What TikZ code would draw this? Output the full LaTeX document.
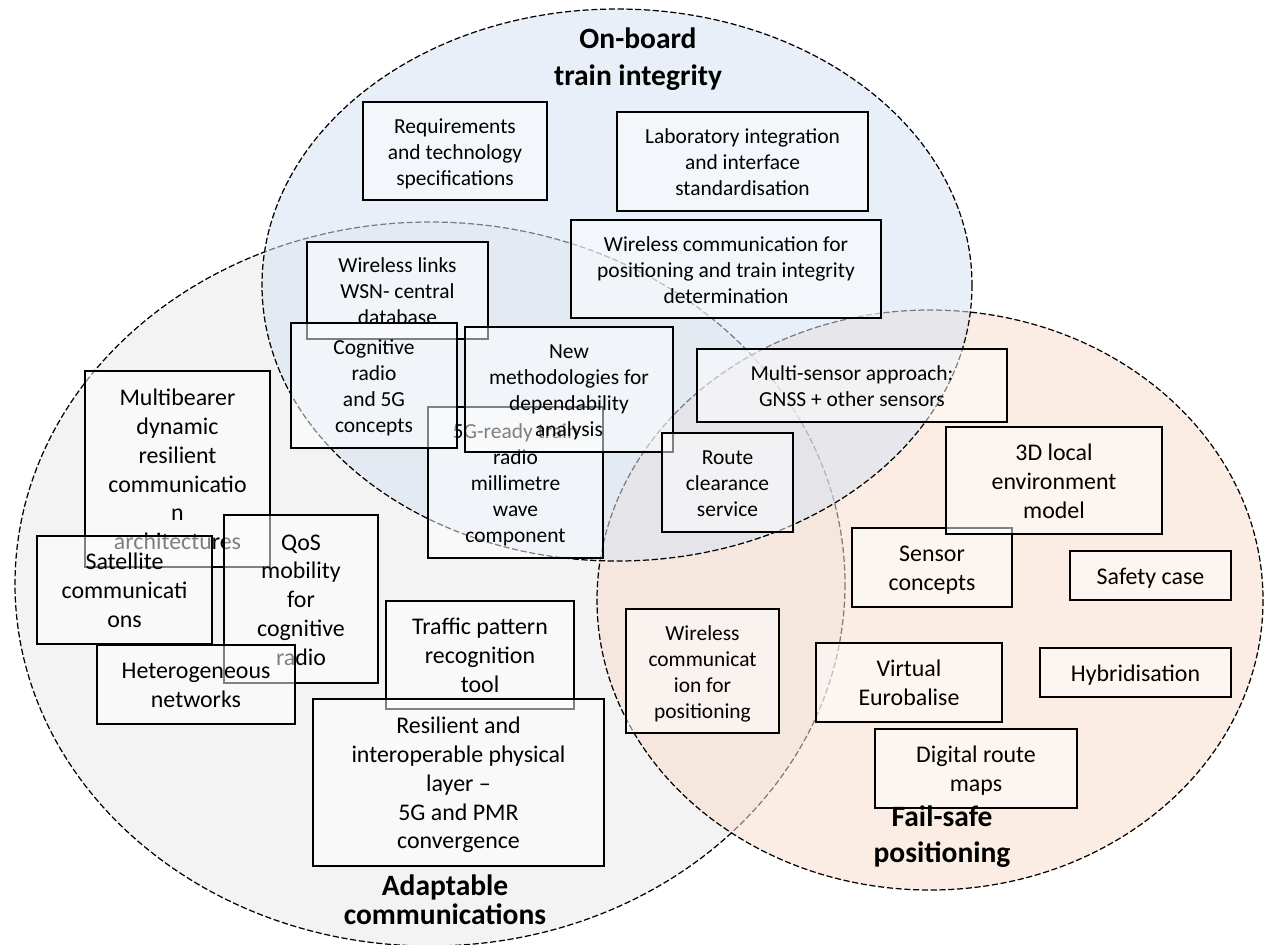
\documentclass[tikz,border=0pt]{standalone}
\usepackage{fontspec}
\setmainfont{Carlito}
\definecolor{boardfill}{RGB}{215,226,242}
\definecolor{commfill}{RGB}{233,233,233}
\definecolor{posfill}{RGB}{248,222,204}
% centred lines, each row one \baselineskip high
\newcommand\lines[1]{\begin{tabular}{@{}c@{}}#1\end{tabular}}
% box from (x1,y1) to (x2,y2) in pixel units, text centred and set a little low
\newcommand\boxat[7]{\node[card,#2,minimum width={(#5-#3)*0.02cm},minimum height={(#6-#4)*0.02cm}] (#1) at ({(#3+#5)/2},{(#4+#6)/2}) {\raisebox{-0.06cm}[\height][\depth]{\lines{#7}}};}
\begin{document}
\begin{tikzpicture}[x=0.02cm,y=-0.02cm,
  region/.style={draw=black, line width=0.7pt, dash pattern=on 3.5pt off 1.5pt, fill opacity=0.55},
  card/.style={draw=black, line width=0.9pt, fill=white, fill opacity=0.5, text opacity=1, inner sep=0pt},
  txtS/.style={font=\fontsize{12.2}{14.75}\selectfont},
  txtL/.style={font=\fontsize{13.6}{16.4}\selectfont},
  heading/.style={inner sep=0pt, text=black}
]
\useasboundingbox (0,0) rectangle (1270,944);

% the three overlapping work areas
\path[region, fill=commfill] (430,584) ellipse [x radius=415, y radius=362];
\path[region, fill=posfill]  (930,600) ellipse [x radius=333, y radius=290];
\path[region, fill=boardfill] (617,285) ellipse [x radius=355, y radius=276];

% on-board train integrity
\boxat{req}{txtS}{363}{102}{547}{200}{Requirements\\and technology\\specifications}
\boxat{lab}{txtS}{617}{112}{868}{211}{Laboratory integration\\and interface\\standardisation}
\boxat{wcpos}{txtS}{571}{220}{881}{318}{Wireless communication for\\positioning and train integrity\\determination}
\boxat{wsn}{txtS}{307}{242}{488}{339}{Wireless links\\WSN- central\\database}
\boxat{mmw}{txtS}{428}{407}{603}{558}{5G-ready train\\radio\\millimetre\\wave\\component}
\boxat{cog}{txtS}{291}{323}{457}{448}{Cognitive\\radio\\and 5G\\concepts}
\boxat{dep}{txtS}{465}{327}{673}{452}{New\\methodologies for\\dependability\\analysis}
\boxat{gnss}{txtS}{697}{349}{1007}{422}{Multi-sensor approach:\\GNSS + other sensors}
\boxat{route}{txtS}{662}{433}{793}{532}{Route\\clearance\\service}

% adaptable communications
\boxat{multi}{txtL}{85}{371}{270}{567}{Multibearer\\dynamic\\resilient\\communicatio\\n\\architectures}
\boxat{sat}{txtL}{37}{536}{212}{644}{Satellite\\communicati\\ons}
\boxat{qos}{txtL}{224}{515}{378}{683}{QoS\\mobility\\for\\cognitive\\radio}
\boxat{het}{txtL}{97}{645}{295}{724}{Heterogeneous\\networks}
\boxat{traffic}{txtL}{386}{601}{574}{709}{Traffic pattern\\recognition\\tool}
\boxat{phy}{txtL}{313}{699}{604}{866}{Resilient and\\interoperable physical\\layer –\\5G and PMR\\convergence}

% fail-safe positioning
\boxat{wcp}{txtS}{626}{609}{779}{733}{Wireless\\communicat\\ion for\\positioning}
\boxat{sensor}{txtL}{852}{528}{1012}{607}{Sensor\\concepts}
\boxat{env}{txtL}{946}{427}{1162}{534}{3D local\\environment\\model}
\boxat{safety}{txtL}{1070}{551}{1231}{600}{Safety case}
\boxat{veb}{txtL}{816}{643}{1002}{722}{Virtual\\Eurobalise}
\boxat{hyb}{txtL}{1040}{648}{1231}{697}{Hybridisation}
\boxat{maps}{txtL}{875}{729}{1077}{808}{Digital route\\maps}

% area headings
\node[heading, font=\fontsize{16.8}{21}\selectfont\bfseries] (tboard) at (638,59.5) {\lines{On-board\\train integrity}};
\node[heading, font=\fontsize{16.8}{16.4}\selectfont\bfseries] (tcomm) at (445,903.7) {\lines{Adaptable\\communications}};
\node[heading, font=\fontsize{16.8}{20.4}\selectfont\bfseries] (tpos) at (942,837) {\lines{Fail-safe\\positioning}};
\end{tikzpicture}
\end{document}
